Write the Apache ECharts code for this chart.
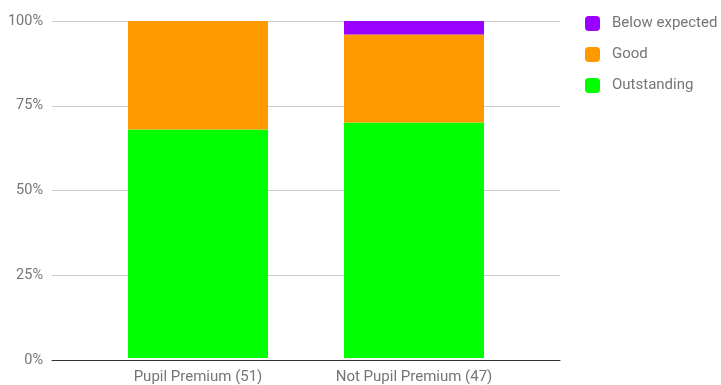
<!DOCTYPE html>
<html>
<head>
<meta charset="utf-8">
<script src="https://cdn.jsdelivr.net/npm/echarts@6/dist/echarts.min.js"></script>
<style>html,body{margin:0;padding:0;background:#fff}#c{width:721px;height:385px}</style>
</head>
<body>
<div id="c"></div>
<script>
var categories = ['Pupil Premium (51)', 'Not Pupil Premium (47)'];
var outstanding = [67.8, 69.9];
var good = [32.2, 26.1];
var belowExpected = [0, 4.0];
var yTicks = [0, 25, 50, 75, 100];

var chart = echarts.init(document.getElementById('c'));
var textColor = '#757575';
var font = 'Roboto, "Noto Sans", sans-serif';
chart.setOption({
  animation: false,
  textStyle: { fontFamily: font },
  grid: [
    { left: 52, right: 161, top: 21, bottom: 25 },
    { left: 90, right: 199, top: 21, bottom: 25 }
  ],
  legend: {
    orient: 'vertical',
    left: 580, top: 10.5,
    padding: 5,
    itemWidth: 15, itemHeight: 15, itemGap: 15,
    icon: 'roundRect',
    data: ['Below expected', 'Good', 'Outstanding'],
    textStyle: { color: textColor, fontSize: 15, lineHeight: 16, fontFamily: font, padding: [0, 0, 0, 7] }
  },
  xAxis: [
    { type: 'category', gridIndex: 0, data: [''],
      axisLine: { show: true, lineStyle: { color: '#333', width: 1 } },
      axisTick: { show: false }, axisLabel: { show: false }, splitLine: { show: false } },
    { type: 'category', gridIndex: 1, data: categories,
      axisLine: { show: false }, axisTick: { show: false },
      axisLabel: { color: textColor, fontSize: 15, fontFamily: font, margin: 12 } }
  ],
  yAxis: [
    { type: 'value', gridIndex: 0, min: yTicks[0], max: yTicks[yTicks.length - 1], interval: 25,
      axisLine: { show: false }, axisTick: { show: false },
      axisLabel: { color: textColor, fontSize: 14.5, fontFamily: font, margin: 9, formatter: '{value}%' },
      splitLine: { lineStyle: { color: '#cccccc' } } },
    { type: 'value', gridIndex: 1, min: 0, max: 100, interval: 25, show: false,
      splitLine: { show: false } }
  ],
  series: [
    { name: 'Outstanding', type: 'bar', stack: 't', xAxisIndex: 1, yAxisIndex: 1, barWidth: 140,
      itemStyle: { color: '#00ff00' }, data: outstanding },
    { name: 'Good', type: 'bar', stack: 't', xAxisIndex: 1, yAxisIndex: 1, barWidth: 140,
      itemStyle: { color: '#ff9900' }, data: good },
    { name: 'Below expected', type: 'bar', stack: 't', xAxisIndex: 1, yAxisIndex: 1, barWidth: 140,
      itemStyle: { color: '#9900ff' }, data: belowExpected }
  ]
});
</script>
</body>
</html>
